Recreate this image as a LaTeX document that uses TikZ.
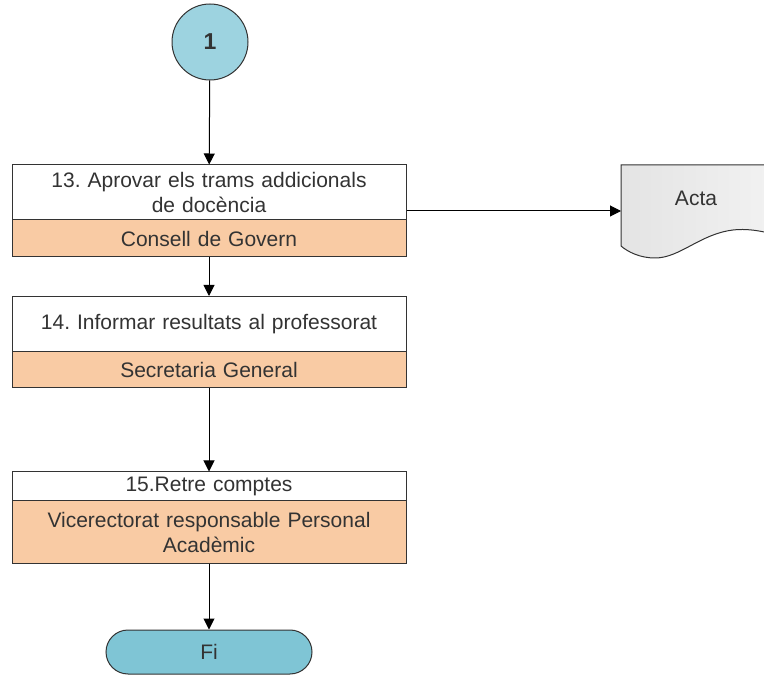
\documentclass[tikz,border=0pt]{standalone}
\usepackage{fontspec}
\setmainfont{Liberation Sans}
\usetikzlibrary{arrows.meta,shapes.misc}
\definecolor{lblue}{HTML}{9DD3E0}
\definecolor{fiblue}{HTML}{7FC5D5}
\definecolor{orng}{HTML}{F9CBA4}
\definecolor{actag}{HTML}{DDDDDD}
\definecolor{txt}{HTML}{333333}
\begin{document}
\frenchspacing
\begin{tikzpicture}[x=1pt,y=-1pt,
  every node/.style={font=\fontsize{21}{25}\selectfont, text=txt},
  task/.style={draw=black!80, line width=1pt, fill=white, minimum width=394pt, text width=390pt, align=center, inner sep=0pt},
  role/.style={task, fill=orng},
  conn/.style={draw=black, line width=1pt, -{Triangle[length=11pt,width=11pt]}},
  ]
\useasboundingbox (0,0) rectangle (764,676);
\node[circle, draw=black!80, line width=1pt, fill=lblue, minimum size=76pt, inner sep=0pt, font=\bfseries\fontsize{23}{26}\selectfont] (c1) at (210,42) {1};

\node[task, minimum height=55pt] (t13) at (209,192.5) {13. Aprovar els trams addicionals\\de docència};
\node[role, minimum height=37pt] (r13) at (209,238.5) {Consell de Govern};

\node[task, minimum height=55pt] (t14) at (209,324) {14. Informar resultats al professorat};
\node[role, minimum height=36pt] (r14) at (209,369.5) {Secretaria General};

\node[task, minimum height=29pt] (t15) at (209,486.5) {15.Retre comptes};
\node[role, minimum height=62pt] (r15) at (209,532) {Vicerectorat responsable Personal\\Acadèmic};

\node[rounded rectangle, draw=black!80, line width=1pt, fill=fiblue, minimum width=206pt, minimum height=44pt, inner sep=0pt] (fi) at (209,652) {Fi};

% Acta document shape
\begin{scope}
\clip (0,0) rectangle (764,676);
\path[draw=black!80, line width=1pt, left color=actag!80, right color=actag!110!black] (621,165) -- (790,165) -- (790,240)
  .. controls (770,232) and (750,228) .. (733,230)
  .. controls (700,234) and (680,258) .. (655,258)
  .. controls (640,258) and (628,252) .. (621,246) -- cycle;
\end{scope}
\node (acta) at (696,198) {Acta};
\coordinate (actain) at (621,211);

\draw[conn] (c1) -- (t13);
\draw[conn] (r13) -- (t14);
\draw[conn] (r14) -- (t15);
\draw[conn] (r15) -- (fi);
\draw[conn] (t13.east |- actain) -- (actain);
\end{tikzpicture}
\end{document}
